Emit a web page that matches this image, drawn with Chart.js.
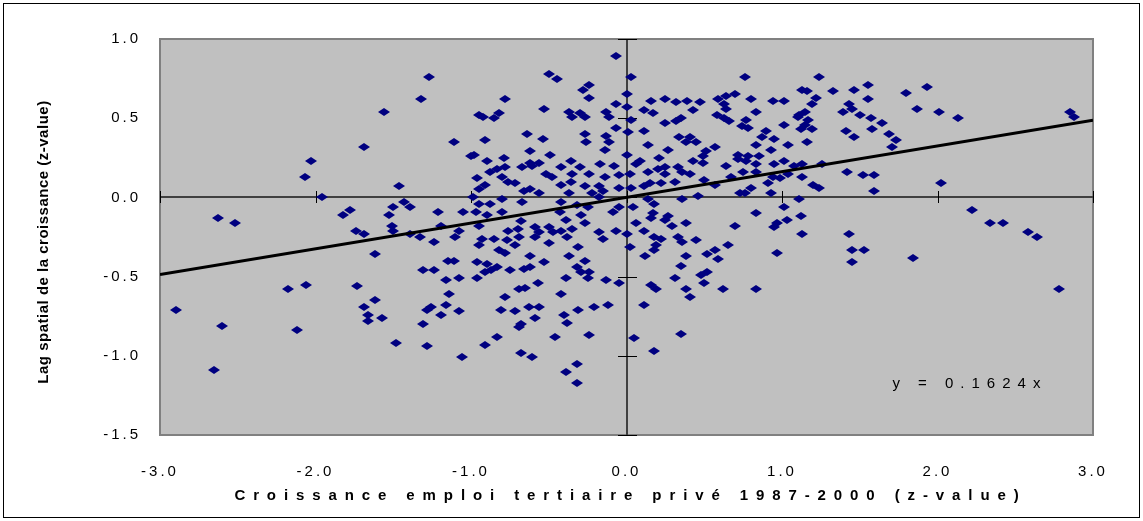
<!DOCTYPE html>
<html>
<head>
<meta charset="utf-8">
<title>Lag spatial de la croissance</title>
<script src="https://cdn.jsdelivr.net/npm/chart.js@4.4.1/dist/chart.umd.min.js"></script>
<style>
  body { margin: 0; background: #fff; }
  #wrap { width: 1143px; height: 521px; }
</style>
</head>
<body>
<div id="wrap"><canvas id="chart" width="1143" height="521"></canvas></div>
<script>
// axes
const xTickValues = [-3, -2, -1, 0, 1, 2, 3]
const yTickValues = [-1.5, -1, -0.5, 0, 0.5, 1]
const xTitle = 'Croissance emploi tertiaire privé 1987-2000 (z-value)'
const yTitle = 'Lag spatial de la croissance (z-value)'

// trend line y = 0.1624x
const slope = 0.1624
const equation = 'y = 0.1624x'
const trendX = [-3, 3]

// communes: [croissance (z), lag spatial (z)], by zone
const farLeft = [
    [-2.90, -0.71], [-2.65, -1.09], [-2.63, -0.13], [-2.60, -0.81], [-2.52, -0.16],
    [-2.18, -0.58], [-2.06, -0.55], [-2.12, -0.84], [-2.03, 0.23], [-2.07, 0.13]
]
const leftUpper = [
    [-1.27, 0.76], [-1.32, 0.62], [-1.56, 0.54], [-1.69, 0.32], [-1.11, 0.35],
    [-1.00, 0.26], [-1.46, 0.07], [-1.96, 0.00], [-1.78, -0.08], [-1.82, -0.11],
    [-1.50, -0.06], [-1.43, -0.03], [-1.39, -0.06], [-1.53, -0.11], [-1.21, -0.09],
    [-0.99, 0.00], [-1.05, -0.09]
]
const leftLower = [
    [-1.74, -0.21], [-1.69, -0.23], [-1.51, -0.18], [-1.50, -0.21], [-1.39, -0.23],
    [-1.33, -0.25], [-1.19, -0.18], [-1.08, -0.21], [-1.10, -0.25], [-1.24, -0.28],
    [-1.62, -0.36], [-1.15, -0.40], [-1.31, -0.46], [-1.24, -0.46], [-1.11, -0.40],
    [-1.16, -0.52], [-1.08, -0.51], [-1.73, -0.56], [-1.14, -0.61], [-1.62, -0.65],
    [-1.69, -0.69], [-1.66, -0.74], [-1.66, -0.78], [-1.57, -0.76], [-1.28, -0.71],
    [-1.26, -0.69], [-1.16, -0.68], [-1.19, -0.74], [-1.08, -0.72], [-1.31, -0.80],
    [-1.48, -0.92], [-1.28, -0.94], [-1.06, -1.01]
]
const midLeftUpper = [
    [-0.07, 0.89], [-0.50, 0.78], [-0.45, 0.75], [-0.24, 0.71], [-0.28, 0.68],
    [-0.78, 0.62], [-0.24, 0.63], [-0.07, 0.59], [-0.53, 0.56], [-0.95, 0.52],
    [-0.92, 0.51], [-0.82, 0.53], [-0.85, 0.50], [-0.37, 0.54], [-0.35, 0.51],
    [-0.30, 0.53], [-0.27, 0.51], [-0.13, 0.54], [-0.11, 0.51], [-0.07, 0.44],
    [-0.91, 0.36], [-0.64, 0.40], [-0.54, 0.37], [-0.27, 0.40], [-0.26, 0.35],
    [-0.13, 0.39], [-0.11, 0.35], [-0.14, 0.30], [-0.62, 0.29], [-0.98, 0.27],
    [-0.49, 0.27], [-0.79, 0.25], [-0.36, 0.23], [-0.90, 0.23], [-0.62, 0.22],
    [-0.56, 0.22], [-0.67, 0.19], [-0.61, 0.20], [-0.42, 0.19], [-0.30, 0.19],
    [-0.17, 0.21], [-0.08, 0.20], [-0.83, 0.18], [-0.78, 0.19], [-0.88, 0.16],
    [-0.52, 0.15], [-0.48, 0.13], [-0.35, 0.15], [-0.24, 0.15], [-0.14, 0.13],
    [-0.05, 0.14], [-0.96, 0.12], [-0.80, 0.13], [-0.76, 0.10], [-0.91, 0.08],
    [-0.72, 0.09], [-0.42, 0.08], [-0.36, 0.10], [-0.27, 0.07], [-0.18, 0.07],
    [-0.95, 0.05], [-0.66, 0.04], [-0.62, 0.05], [-0.56, 0.03], [-0.37, 0.03],
    [-0.22, 0.03], [-0.15, 0.04], [-0.05, 0.06], [-0.95, -0.04], [-0.88, -0.04],
    [-0.80, -0.01], [-0.67, -0.03], [-0.42, -0.03], [-0.32, -0.05], [-0.25, -0.06],
    [-0.18, 0.00], [-0.05, -0.06], [-0.97, -0.09], [-0.90, -0.11], [-0.80, -0.09],
    [-0.43, -0.09], [-0.29, -0.11], [-0.09, -0.09]
]
const midLeftLower = [
    [-0.95, -0.18], [-0.76, -0.21], [-0.70, -0.20], [-0.68, -0.15], [-0.59, -0.19],
    [-0.56, -0.22], [-0.50, -0.19], [-0.47, -0.22], [-0.42, -0.21], [-0.35, -0.20],
    [-0.39, -0.14], [-0.27, -0.16], [-0.18, -0.22], [-0.15, -0.26], [-0.07, -0.21],
    [-0.93, -0.26], [-0.85, -0.26], [-0.77, -0.27], [-0.69, -0.25], [-0.59, -0.25],
    [-0.95, -0.30], [-0.72, -0.30], [-0.50, -0.29], [-0.38, -0.25], [-0.31, -0.31],
    [-0.82, -0.33], [-0.78, -0.35], [-0.62, -0.37], [-0.53, -0.41], [-0.37, -0.37],
    [-0.27, -0.40], [-0.96, -0.41], [-0.90, -0.42], [-0.83, -0.44], [-0.75, -0.46],
    [-0.66, -0.45], [-0.62, -0.44], [-0.32, -0.44], [-0.29, -0.47], [-0.24, -0.47],
    [-0.91, -0.47], [-0.87, -0.46], [-0.96, -0.51], [-0.39, -0.51], [-0.25, -0.51],
    [-0.13, -0.52], [-0.05, -0.54], [-0.57, -0.54], [-0.69, -0.58], [-0.65, -0.57],
    [-0.42, -0.61], [-0.78, -0.63], [-0.81, -0.71], [-0.72, -0.72], [-0.63, -0.69],
    [-0.56, -0.69], [-0.59, -0.76], [-0.40, -0.74], [-0.38, -0.79], [-0.31, -0.71],
    [-0.21, -0.69], [-0.12, -0.68], [-0.69, -0.82], [-0.68, -0.80], [-0.83, -0.88],
    [-0.46, -0.88], [-0.24, -0.87], [-0.91, -0.93], [-0.68, -0.98], [-0.61, -1.01],
    [-0.32, -1.05], [-0.39, -1.10], [-0.32, -1.17]
]
const midRightUpper = [
    [0.03, 0.76], [0.76, 0.76], [0.00, 0.65], [0.16, 0.61], [0.25, 0.62],
    [0.32, 0.60], [0.39, 0.61], [0.47, 0.60], [0.43, 0.55], [0.59, 0.62],
    [0.64, 0.64], [0.70, 0.65], [0.63, 0.59], [0.80, 0.62], [0.94, 0.61],
    [0.00, 0.57], [0.11, 0.55], [0.17, 0.53], [0.64, 0.56], [0.83, 0.54],
    [0.58, 0.52], [0.63, 0.50], [0.66, 0.48], [0.03, 0.49], [0.25, 0.47],
    [0.32, 0.48], [0.35, 0.50], [0.77, 0.49], [0.74, 0.45], [0.78, 0.44],
    [0.90, 0.42], [0.11, 0.42], [0.01, 0.41], [0.87, 0.38], [0.95, 0.37],
    [0.14, 0.33], [0.34, 0.38], [0.41, 0.38], [0.38, 0.35], [0.45, 0.35],
    [0.57, 0.32], [0.83, 0.33], [0.93, 0.30], [0.27, 0.30], [0.51, 0.29],
    [0.00, 0.27], [0.49, 0.26], [0.72, 0.27], [0.78, 0.26], [0.85, 0.26],
    [0.21, 0.25], [0.09, 0.23], [0.43, 0.23], [0.49, 0.22], [0.72, 0.24],
    [0.77, 0.23], [0.06, 0.21], [0.20, 0.18], [0.25, 0.19], [0.33, 0.19],
    [0.64, 0.20], [0.83, 0.21], [0.95, 0.21], [0.14, 0.16], [0.25, 0.15],
    [0.36, 0.16], [0.41, 0.15], [0.67, 0.13], [0.75, 0.16], [0.83, 0.16],
    [0.02, 0.15], [0.94, 0.13], [0.99, 0.12], [0.15, 0.09], [0.22, 0.09],
    [0.31, 0.10], [0.50, 0.11], [0.57, 0.08], [0.91, 0.09], [0.03, 0.06],
    [0.11, 0.07], [0.46, 0.01], [0.73, 0.03], [0.76, 0.03], [0.80, 0.06],
    [0.93, 0.03], [0.36, -0.01], [0.14, -0.01], [0.18, -0.04], [0.04, -0.06],
    [0.17, -0.10], [0.27, -0.12], [0.83, -0.10]
]
const midRightLower = [
    [0.06, -0.16], [0.16, -0.13], [0.25, -0.14], [0.29, -0.18], [0.38, -0.16],
    [0.11, -0.21], [0.00, -0.23], [0.18, -0.25], [0.22, -0.26], [0.33, -0.25],
    [0.36, -0.28], [0.45, -0.27], [0.02, -0.31], [0.19, -0.30], [0.18, -0.33],
    [0.12, -0.37], [0.65, -0.30], [0.57, -0.33], [0.52, -0.36], [0.38, -0.37],
    [0.59, -0.39], [0.35, -0.43], [0.52, -0.47], [0.48, -0.49], [0.31, -0.51],
    [0.50, -0.54], [0.16, -0.55], [0.19, -0.58], [0.38, -0.58], [0.62, -0.58],
    [0.83, -0.58], [0.41, -0.63], [0.11, -0.68], [0.05, -0.89], [0.35, -0.86],
    [0.18, -0.97], [0.70, -0.18], [0.95, -0.19], [0.97, -0.16], [0.97, -0.35]
]
const rightUpper = [
    [1.24, 0.76], [1.13, 0.68], [1.16, 0.67], [1.33, 0.67], [1.46, 0.68],
    [1.55, 0.71], [1.55, 0.62], [1.80, 0.66], [1.93, 0.70], [1.01, 0.61],
    [1.22, 0.63], [1.19, 0.59], [1.43, 0.59], [1.45, 0.56], [1.39, 0.54],
    [1.87, 0.56], [2.01, 0.54], [1.15, 0.54], [1.11, 0.52], [1.10, 0.51],
    [1.50, 0.52], [1.57, 0.50], [1.64, 0.47], [1.17, 0.49], [1.15, 0.46],
    [1.12, 0.43], [1.19, 0.43], [1.41, 0.42], [1.58, 0.43], [1.69, 0.40],
    [1.46, 0.38], [1.73, 0.36], [1.71, 0.32], [1.04, 0.33], [1.16, 0.35],
    [1.01, 0.46], [1.01, 0.23], [1.08, 0.20], [1.13, 0.21], [1.04, 0.15],
    [1.13, 0.13], [1.26, 0.21], [1.42, 0.16], [1.52, 0.14], [1.59, 0.14],
    [1.20, 0.08], [1.24, 0.06], [1.59, 0.04], [2.02, 0.09], [1.11, -0.01],
    [1.01, -0.06]
]
const rightLower = [
    [1.12, -0.12], [1.03, -0.14], [1.13, -0.23], [1.43, -0.23], [1.45, -0.33],
    [1.53, -0.33], [1.45, -0.41], [1.84, -0.38]
]
const farRight = [
    [2.13, 0.50], [2.85, 0.54], [2.88, 0.51], [2.22, -0.08], [2.34, -0.16],
    [2.42, -0.16], [2.58, -0.22], [2.64, -0.25], [2.78, -0.58]
]

const communes = [].concat(farLeft, leftUpper, leftLower, midLeftUpper, midLeftLower,
    midRightUpper, midRightLower, rightUpper, rightLower, farRight)

// excel-like diamond marker
const diamond = document.createElement('canvas')
diamond.width = 12
diamond.height = 8
const dctx = diamond.getContext('2d')
dctx.fillStyle = '#000080'
dctx.beginPath()
dctx.moveTo(0, 4)
dctx.lineTo(6, 0)
dctx.lineTo(12, 4)
dctx.lineTo(6, 8)
dctx.closePath()
dctx.fill()

const FONT = "'Liberation Sans', Arial, sans-serif"

const excelLook = {
    id: 'excelLook',
    beforeDraw(chart) {
        const { ctx, chartArea: a } = chart
        ctx.save()
        ctx.fillStyle = '#ffffff'
        ctx.fillRect(0, 0, chart.width, chart.height)
        ctx.strokeStyle = '#000000'
        ctx.lineWidth = 1
        ctx.strokeRect(3.5, 3.5, chart.width - 7, chart.height - 7)
        ctx.fillStyle = '#c0c0c0'
        ctx.fillRect(a.left, a.top, a.right - a.left, a.bottom - a.top)
        ctx.restore()
        // spaced tick labels, like the original
        ctx.letterSpacing = '3px'
    },
    beforeDatasetsDraw(chart) {
        const { ctx, chartArea: a, scales } = chart
        ctx.letterSpacing = '0px'
        ctx.save()
        ctx.strokeStyle = '#808080'
        ctx.lineWidth = 2
        ctx.strokeRect(a.left, a.top, a.right - a.left, a.bottom - a.top)
        const x0 = Math.round(scales.x.getPixelForValue(0))
        const y0 = Math.round(scales.y.getPixelForValue(0))
        ctx.strokeStyle = '#404040'
        ctx.lineWidth = 2
        ctx.beginPath()
        ctx.moveTo(a.left, y0)
        ctx.lineTo(a.right, y0)
        ctx.moveTo(x0, a.top)
        ctx.lineTo(x0, a.bottom)
        ctx.stroke()
        ctx.strokeStyle = '#000000'
        ctx.lineWidth = 1
        ctx.beginPath()
        xTickValues.forEach(v => {
            const px = Math.round(scales.x.getPixelForValue(v)) + 0.5
            ctx.moveTo(px, y0 - 6)
            ctx.lineTo(px, y0 + 6)
        })
        yTickValues.forEach(v => {
            const py = Math.round(scales.y.getPixelForValue(v)) + 0.5
            ctx.moveTo(x0 - 9, py)
            ctx.lineTo(x0 + 10, py)
        })
        ctx.stroke()
        ctx.restore()
        // crisp markers
        ctx.imageSmoothingEnabled = false
    },
    afterDatasetsDraw(chart) {
        chart.ctx.imageSmoothingEnabled = true
    },
    afterDraw(chart) {
        const { ctx, chartArea: a, scales } = chart
        ctx.save()
        ctx.fillStyle = '#000000'
        ctx.textBaseline = 'middle'

        // equation of the trend line
        ctx.font = '15px ' + FONT
        ctx.letterSpacing = '7px'
        ctx.textAlign = 'left'
        ctx.fillText(equation, scales.x.getPixelForValue(1.71), scales.y.getPixelForValue(-1.18))

        // x title
        ctx.font = 'bold 15px ' + FONT
        ctx.letterSpacing = '7.9px'
        ctx.textAlign = 'center'
        ctx.fillText(xTitle, (a.left + a.right) / 2 + 4, 496)

        // y title
        ctx.letterSpacing = '0.5px'
        ctx.font = 'bold 15px ' + FONT
        ctx.translate(44, (a.top + a.bottom) / 2 + 5)
        ctx.rotate(-Math.PI / 2)
        ctx.fillText(yTitle, 0, 0)
        ctx.restore()
    }
}

const ctx = document.getElementById('chart')
const MyChart = new Chart(ctx, {
    type: 'scatter',
    data: {
        datasets: [{
            label: 'Tendance',
            type: 'line',
            data: trendX.map(x => ({ x: x, y: slope * x })),
            borderColor: '#000000',
            borderWidth: 3,
            pointRadius: 0,
            fill: false
        }, {
            label: 'Communes',
            data: communes.map(p => ({ x: p[0], y: p[1] })),
            pointStyle: diamond,
            pointRadius: 5,
            backgroundColor: '#000080',
            borderColor: '#000080'
        }]
    },
    options: {
        responsive: false,
        animation: false,
        devicePixelRatio: 1,
        layout: { padding: { left: 0, top: 39, right: 50, bottom: 0 } },
        plugins: { legend: { display: false }, tooltip: { enabled: false } },
        scales: {
            x: {
                type: 'linear',
                min: -3,
                max: 3,
                grid: { display: false },
                border: { display: false },
                afterBuildTicks: scale => { scale.ticks = xTickValues.map(v => ({ value: v })) },
                afterFit: scale => { scale.height = 86 },
                ticks: {
                    color: '#000000',
                    font: { family: FONT, size: 15 },
                    padding: 20,
                    maxRotation: 0,
                    callback: value => value.toFixed(1)
                }
            },
            y: {
                type: 'linear',
                min: -1.5,
                max: 1,
                grid: { display: false },
                border: { display: false },
                afterBuildTicks: scale => { scale.ticks = yTickValues.map(v => ({ value: v })) },
                afterFit: scale => { scale.width = 160 },
                ticks: {
                    color: '#000000',
                    font: { family: FONT, size: 15 },
                    padding: 11,
                    callback: value => value.toFixed(1)
                }
            }
        }
    },
    plugins: [excelLook]
})
</script>
</body>
</html>
